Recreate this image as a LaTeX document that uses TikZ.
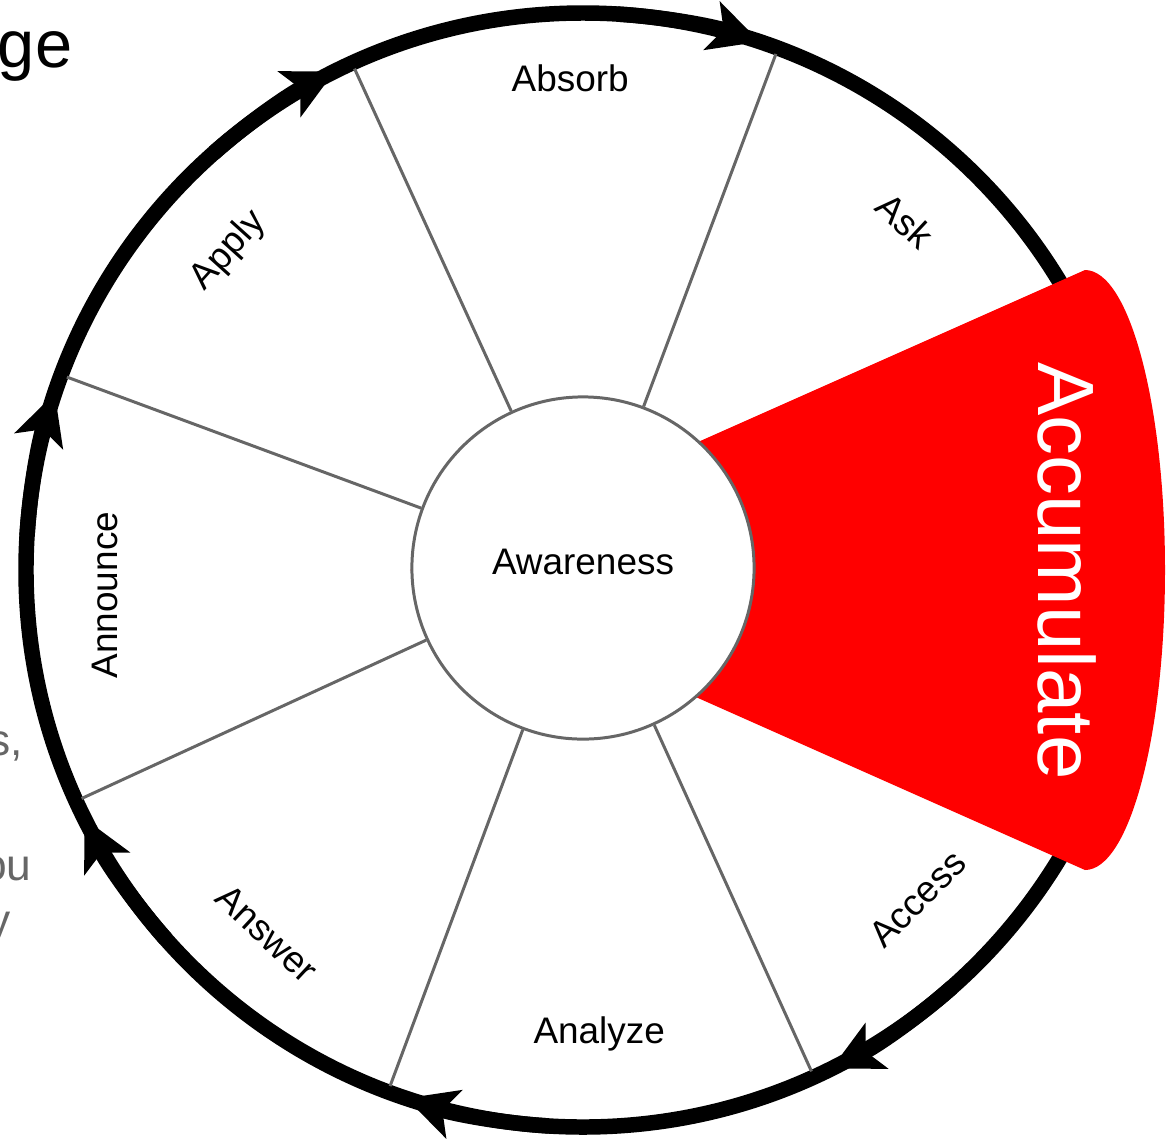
\documentclass[tikz,border=0pt]{standalone}
\usepackage{fontspec}
\setmainfont{Liberation Sans}
\usetikzlibrary{arrows.meta,positioning,calc}

\definecolor{spokegray}{HTML}{666666}
\definecolor{notegray}{HTML}{666666}
\definecolor{accent}{HTML}{FF0000}

\tikzset{
  ring/.style={line width=4.4pt,black},
  spoke/.style={line width=0.85pt,draw=spokegray},
  sector/.style={font=\fontsize{10.5}{12}\selectfont,inner sep=1pt},
  note/.style={anchor=base east,inner sep=0pt,text=notegray,font=\fontsize{12.6}{15}\selectfont},
  cwtip/.style={-{Stealth[length=5mm,width=5mm,inset=1.2mm]}}
}

\begin{document}
\begin{tikzpicture}[x=0.01cm,y=0.01cm]
  \useasboundingbox (-583,-568) rectangle (584,570);

  % outer cycle, running clockwise
  \draw[ring] (0,0) circle[radius=557];
  \foreach \a [evaluate=\a as \b using \a+15] in {71.5,116.5,161.5,206.5,251.5,296.5}
    \draw[ring,cwtip] (\b:557) arc[start angle=\b, end angle=\a, radius=557];

  % pulled-out sector
  \fill[accent] (-173,0) -- (502,300) arc[start angle=90, end angle=-90, x radius=80, y radius=300] -- cycle;

  \node[circle,draw=spokegray,line width=0.85pt,fill=white,minimum size=3.42cm,
        text depth=3.4pt,sector] (aware) at (0,2) {Awareness};

  \foreach \s [count=\i] in {69.5,114.5,159.5,204.5,249.5,294.5} {
    \coordinate (rim\i) at (\s:551);
    \draw[spoke] (aware) -- (rim\i);
  }

  \node[sector] (absorb) at (91.5:492) {Absorb};
  \node[sector,rotate=-43] (ask) at (47.3:475) {Ask};
  \node[sector,rotate=48] (apply) at (138:477) {Apply};
  \node[sector,rotate=90] (announce) at (183:479) {Announce};
  \node[sector,rotate=-43] (answer) at (229:482) {Answer};
  \node[sector] (analyze) at (272:464) {Analyze};
  \node[sector,rotate=45] (access) at (315.5:469) {Access};
  \node[text=white,font=\fontsize{22.7}{26}\selectfont,rotate=-90] (accum) at (484,-1) {Accumulate};

  % bits of the slide text cut off at the left
  \node[anchor=base east,inner sep=0pt,font=\fontsize{19}{22}\selectfont] (title) at (-510,503) {ge};
  \node[note] (line1) at (-559,-185) {s,};
  \node[note] (line2) at (-551,-310) {ou};
  \node[note] (line3) at (-572,-365) {y};
\end{tikzpicture}
\end{document}
